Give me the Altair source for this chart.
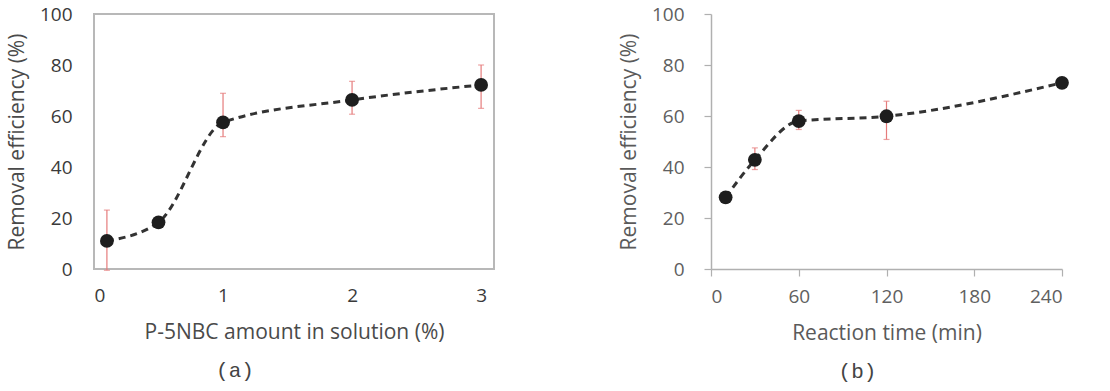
import altair as alt
import pandas as pd

# Panel (a)
a_x = [0.1, 0.5, 1, 2, 3]
a_y = [11.0, 18.3, 57.5, 66.3, 72.2]
a_lo = [-0.5, 18.3, 51.9, 60.7, 63.0]
a_hi = [23.1, 18.3, 68.9, 73.6, 80.0]

# Panel (b)
b_x = [10, 30, 60, 120, 240]
b_y = [28.1, 42.8, 58.0, 59.9, 73.0]
b_lo = [28.1, 39.0, 54.7, 50.8, 73.0]
b_hi = [28.1, 47.5, 62.2, 65.8, 73.0]

y_ticks = [0, 20, 40, 60, 80, 100]
a_ticks = [0, 1, 2, 3]
b_ticks = [0, 60, 120, 180, 240]

FONT = "Open Sans"
ERR = "#e57c7c"

da = pd.DataFrame({"x": a_x, "y": a_y, "lo": a_lo, "hi": a_hi})
db = pd.DataFrame({"x": b_x, "y": b_y, "lo": b_lo, "hi": b_hi})


def panel(df, xdom, xticks, xtitle, label, dx, boxed, w, h):
    axis_color = "#b0b0b0"
    lab_col = "#3a3a3a" if boxed else "#606060"
    tit_col = "#4a4a4a" if boxed else "#5a5a5a"
    xaxis = alt.Axis(
        values=xticks, title=xtitle, grid=False,
        domain=not boxed, domainColor=axis_color, domainWidth=1.5,
        ticks=not boxed, tickColor=axis_color, tickSize=7, tickWidth=1.2,
        labelFont=FONT, labelFontSize=19, labelColor=lab_col,
        labelPadding=17 if boxed else 11,
        titleFont=FONT, titleFontSize=21, titleFontWeight="normal",
        titleColor=tit_col, titlePadding=16,
    )
    yaxis = alt.Axis(
        values=y_ticks, title="Removal efficiency (%)", grid=False,
        domain=not boxed, domainColor=axis_color, domainWidth=1.5,
        ticks=not boxed, tickColor=axis_color, tickSize=7, tickWidth=1.2,
        labelFont=FONT, labelFontSize=19, labelColor=lab_col,
        labelPadding=22 if boxed else 20,
        titleFont=FONT, titleFontSize=21, titleFontWeight="normal",
        titleColor=tit_col, titlePadding=12,
    )
    xs = alt.Scale(domain=xdom, nice=False, zero=False)
    ys = alt.Scale(domain=[0, 100], nice=False)
    base = alt.Chart(df)
    err = base.mark_errorbar(ticks=alt.MarkConfig(size=6, color=ERR), color=ERR,
                             thickness=1.2).encode(
        x=alt.X("x:Q", scale=xs, axis=xaxis),
        y=alt.Y("lo:Q", scale=ys, axis=yaxis),
        y2="hi:Q",
    )
    line = base.mark_line(color="#333", strokeWidth=3, strokeDash=[7, 5],
                          interpolate="monotone").encode(
        x=alt.X("x:Q", scale=xs, axis=xaxis),
        y=alt.Y("y:Q", scale=ys, axis=yaxis),
    )
    pts = base.mark_circle(size=190, color="#1e1e1e", opacity=1).encode(
        x=alt.X("x:Q", scale=xs, axis=xaxis),
        y=alt.Y("y:Q", scale=ys, axis=yaxis),
    )
    return alt.layer(err, line, pts).properties(
        width=w, height=h,
        title=alt.TitleParams(label, orient="bottom", anchor="middle",
                              font="Liberation Mono", fontSize=21,
                              fontWeight="normal", color="#444", dx=dx, offset=18),
        view=alt.ViewConfig(stroke="#b8b8b8" if boxed else None, strokeWidth=2),
    )


left = panel(da, [0, 3.1], a_ticks, "P-5NBC amount in solution (%)", "(a)", -59,
             True, 400, 255)
right = panel(db, [0, 240], b_ticks, "Reaction time (min)", "(b)", -29,
              False, 351, 255)

chart = alt.hconcat(left, right, spacing=123).properties(
    padding={"left": 5, "top": 4, "right": 5, "bottom": 5},
    background="white",
).configure_view(stroke=None)

chart.save("out.html", embed_options={"renderer": "svg", "actions": False})
